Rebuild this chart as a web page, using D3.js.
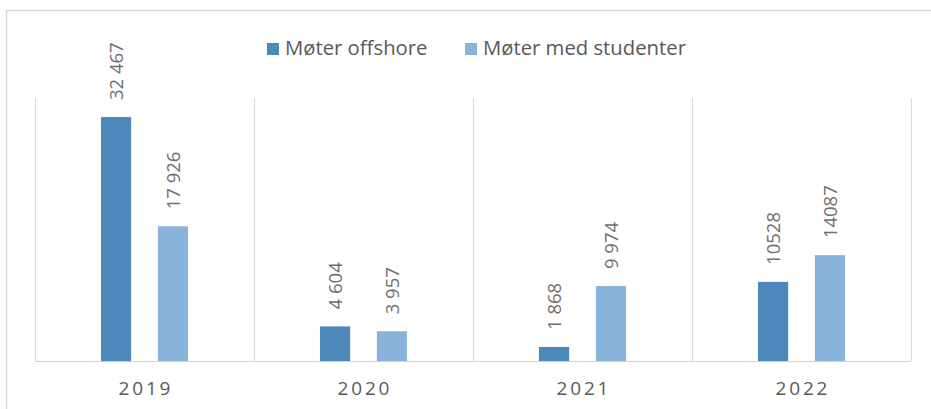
<!DOCTYPE html>
<html>
<head>
<meta charset="utf-8">
<script src="https://cdn.jsdelivr.net/npm/d3@7.9.0/dist/d3.min.js"></script>
<style>
  html, body { margin: 0; padding: 0; background: #fff; }
  svg { display: block; font-family: "Open Sans", sans-serif; }
</style>
</head>
<body>
<svg id="chart" width="931" height="409"></svg>
<script>
// data
const years = ['2019', '2020', '2021', '2022'];
const series = ['Møter offshore', 'Møter med studenter'];
const offshore = [32467, 4604, 1868, 10528];
const students = [17926, 3957, 9974, 14087];
const offshoreLabels = ['32 467', '4 604', '1 868', '10528'];
const studentLabels = ['17 926', '3 957', '9 974', '14087'];
const colors = ['#4d88ba', '#8ab3dc'];

const svg = d3.select('#chart');
const margin = { top: 98, right: 20, bottom: 48, left: 35 };
const width = 931, height = 409;

// outer frame (only top + left visible)
svg.append('path')
  .attr('d', `M6.5,${height} V10.5 H${width}`)
  .attr('fill', 'none')
  .attr('stroke', '#d9d9d9')
  .attr('stroke-width', 1.5);

const x0 = d3.scaleBand()
  .domain(years)
  .range([margin.left, width - margin.right]);

const x1 = d3.scaleBand()
  .domain(series)
  .range([0, x0.bandwidth()])
  .paddingInner(0.47)
  .paddingOuter(1.16);

const y = d3.scaleLinear()
  .domain([0, 35000])
  .range([height - margin.bottom, margin.top]);

// vertical separators between categories
const edges = years.map(d => x0(d)).concat([x0(years[years.length - 1]) + x0.bandwidth()]);
svg.append('g')
  .selectAll('line')
  .data(edges)
  .join('line')
  .attr('x1', d => Math.round(d) + 0.5)
  .attr('x2', d => Math.round(d) + 0.5)
  .attr('y1', y(35000))
  .attr('y2', y(0))
  .attr('stroke', '#d9d9d9')
  .attr('stroke-width', 1);

// bars
const rows = years.map((yr, i) => ({
  year: yr,
  vals: [
    { s: series[0], v: offshore[i], label: offshoreLabels[i], c: colors[0] },
    { s: series[1], v: students[i], label: studentLabels[i], c: colors[1] }
  ]
}));

const groups = svg.append('g')
  .selectAll('g')
  .data(rows)
  .join('g')
  .attr('transform', d => `translate(${x0(d.year)},0)`);

groups.selectAll('rect')
  .data(d => d.vals)
  .join('rect')
  .attr('x', d => x1(d.s))
  .attr('width', x1.bandwidth())
  .attr('y', d => y(d.v))
  .attr('height', d => y(0) - y(d.v))
  .attr('fill', d => d.c);

// rotated data labels
groups.selectAll('text')
  .data(d => d.vals)
  .join('text')
  .attr('transform', d => `translate(${x1(d.s) + x1.bandwidth() / 2},${y(d.v) - 17}) rotate(-90)`)
  .attr('dy', '0.36em')
  .attr('font-size', 18.5)
  .attr('fill', '#6e6e6e')
  .text(d => d.label);

// baseline
svg.append('line')
  .attr('x1', margin.left)
  .attr('x2', width - margin.right)
  .attr('y1', y(0) + 0.5)
  .attr('y2', y(0) + 0.5)
  .attr('stroke', '#d0d0d0')
  .attr('stroke-width', 1.2);

// x axis labels
const xAxis = svg.append('g')
  .attr('transform', `translate(0,${y(0)})`)
  .call(d3.axisBottom(x0).tickSize(0).tickPadding(0));
xAxis.select('.domain').remove();
xAxis.selectAll('text')
  .attr('y', 34)
  .attr('dy', 0)
  .attr('dx', '1.4px')
  .attr('font-family', '"Open Sans", sans-serif')
  .attr('font-size', 19)
  .attr('letter-spacing', '2.8px')
  .attr('fill', '#595959');

// legend
const legendX = [267, 465];
const legend = svg.append('g')
  .selectAll('g')
  .data(series)
  .join('g')
  .attr('transform', (d, i) => `translate(${legendX[i]},0)`);

legend.append('rect')
  .attr('x', 0)
  .attr('y', 43)
  .attr('width', 12)
  .attr('height', 12)
  .attr('fill', (d, i) => colors[i]);

legend.append('text')
  .attr('x', 18)
  .attr('y', 55)
  .attr('font-size', 20.3)
  .attr('fill', '#595959')
  .text(d => d);
</script>
</body>
</html>
